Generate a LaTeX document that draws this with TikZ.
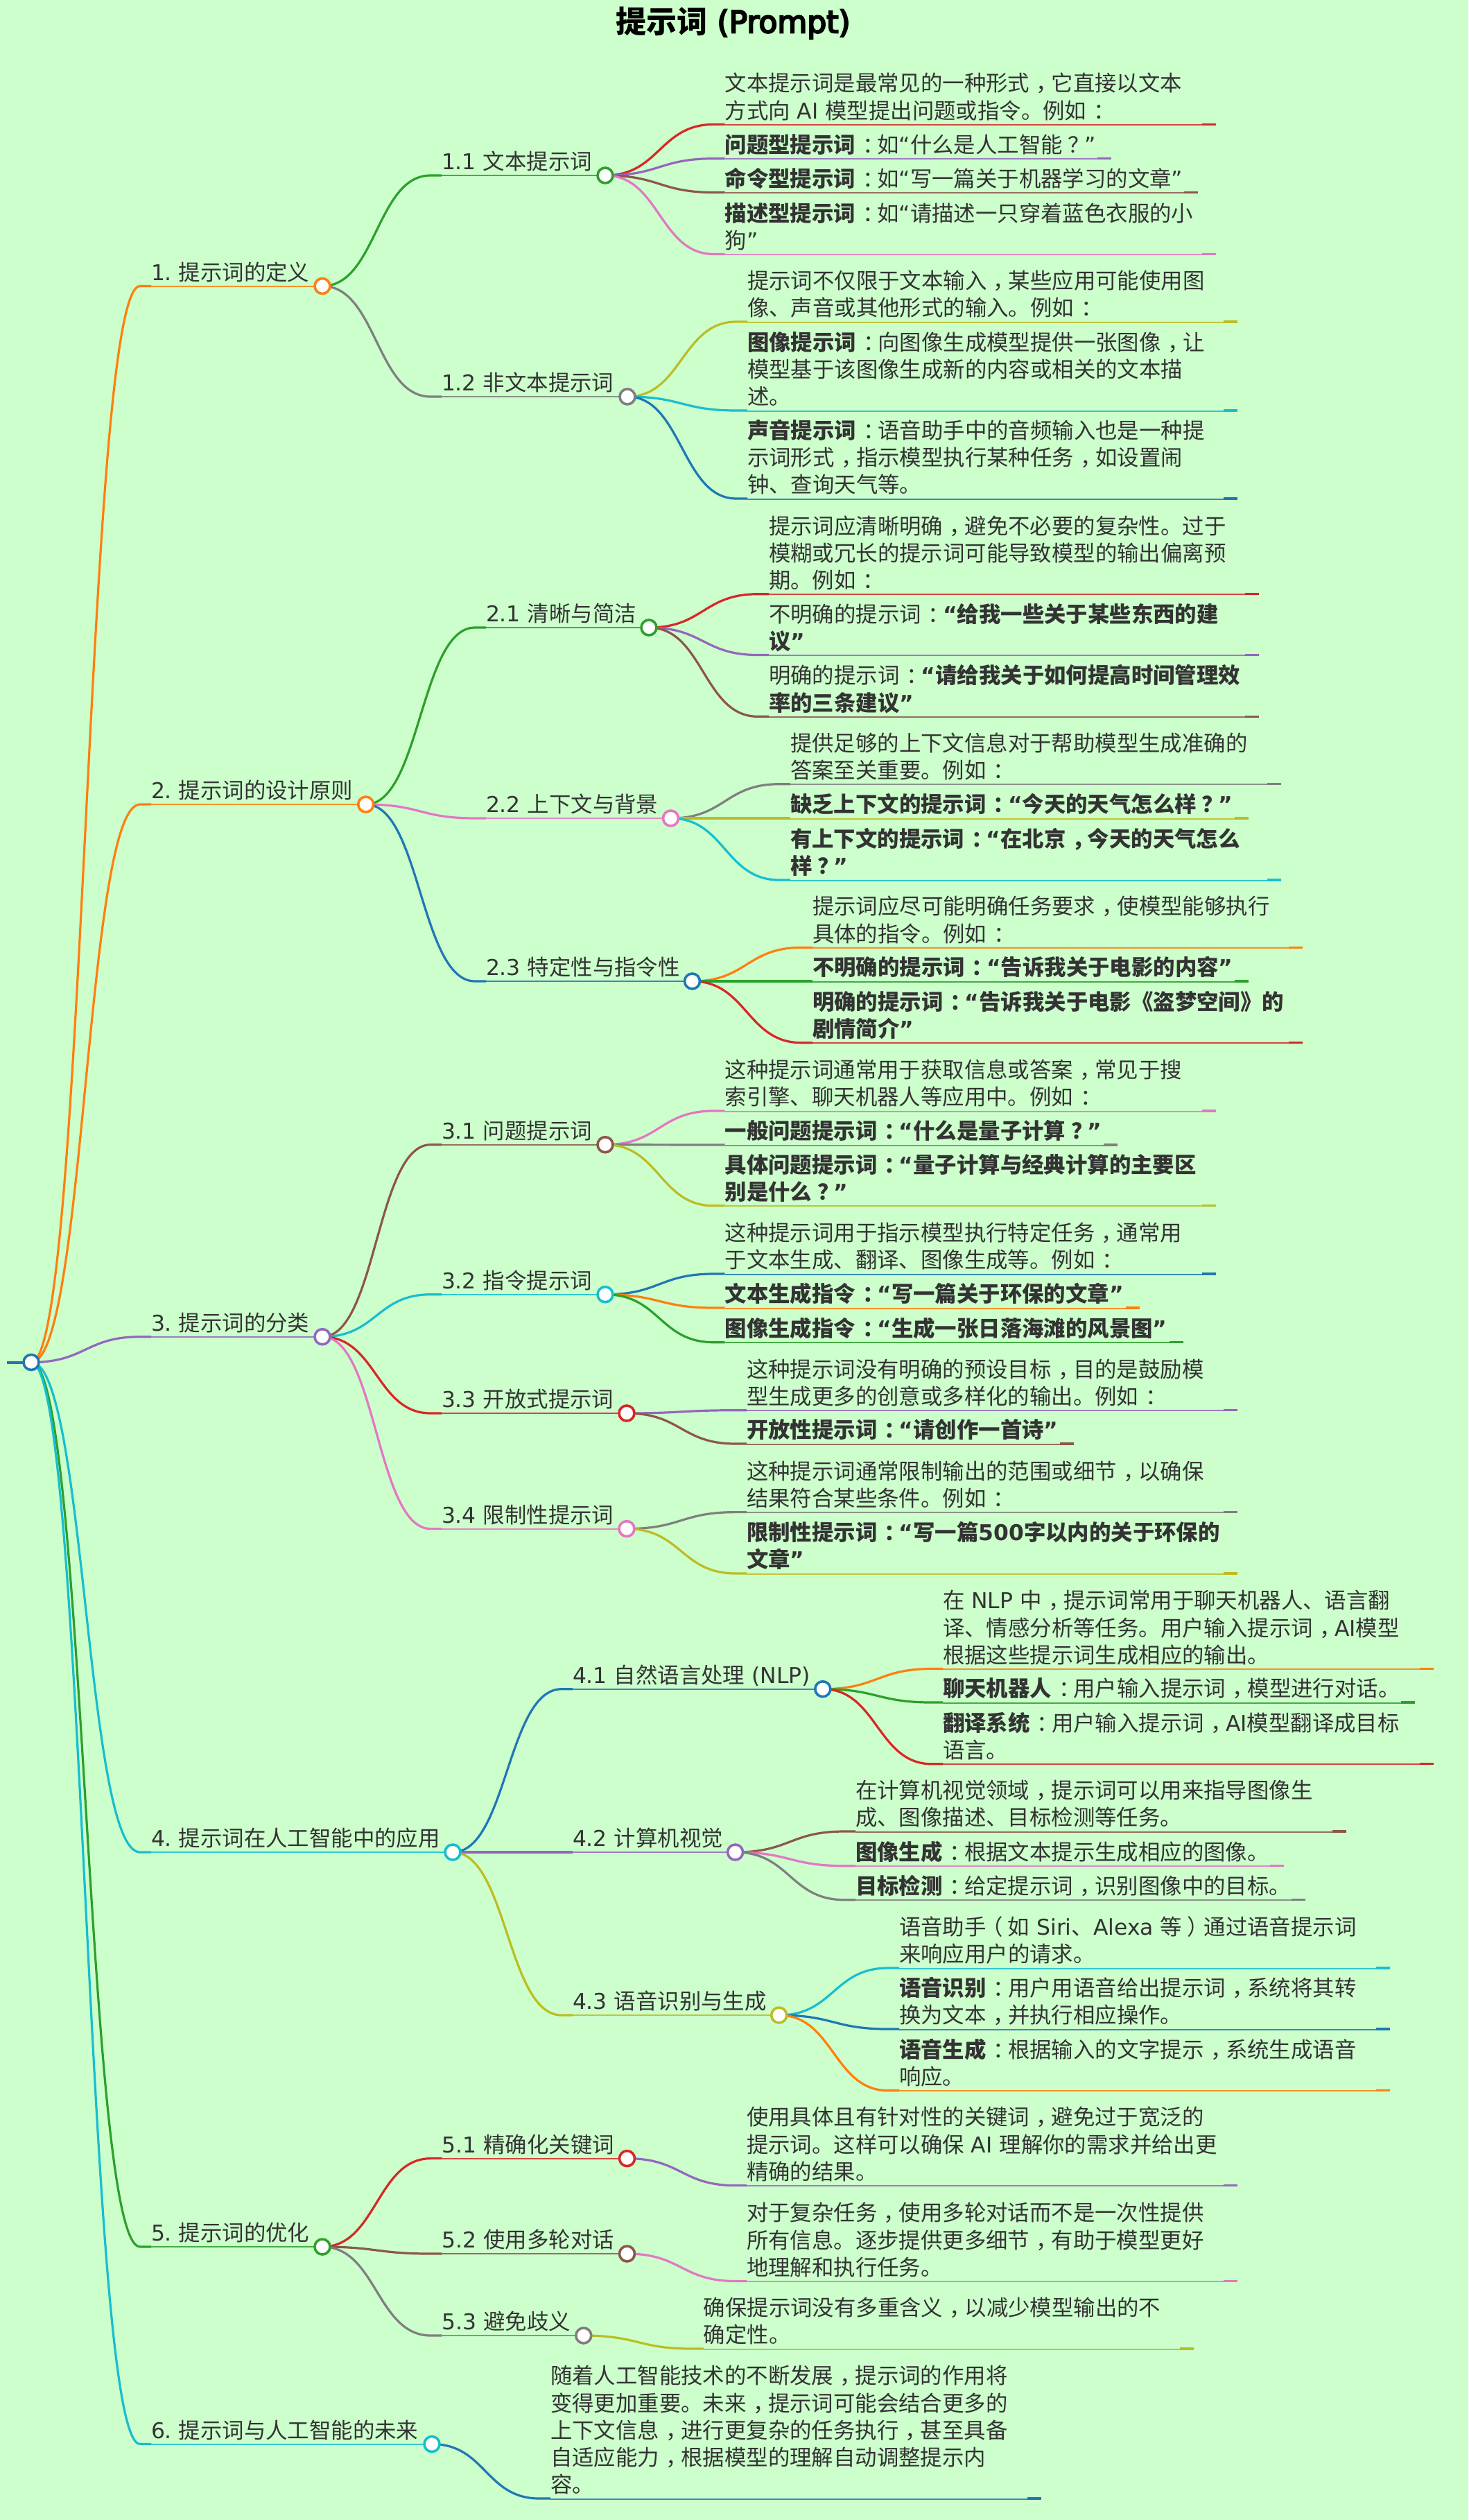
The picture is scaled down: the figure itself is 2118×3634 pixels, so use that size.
\documentclass[tikz,border=0pt]{standalone}
\usepackage{fontspec}
\setmainfont{Noto Sans CJK SC}
\newfontfamily\djv{DejaVu Sans}
\newfontfamily\djvt{DejaVu Sans}[FakeBold=5]
\usetikzlibrary{calc}
\pgfdeclarelayer{bg}
\pgfsetlayers{bg,main}
\definecolor{cblue}{HTML}{1F77B4}
\definecolor{corange}{HTML}{FF7F0E}
\definecolor{cgreen}{HTML}{2CA02C}
\definecolor{cred}{HTML}{D62728}
\definecolor{cpurple}{HTML}{9467BD}
\definecolor{cbrown}{HTML}{8C564B}
\definecolor{cpink}{HTML}{E377C2}
\definecolor{cgray}{HTML}{7F7F7F}
\definecolor{colive}{HTML}{BCBD22}
\definecolor{ccyan}{HTML}{17BECF}
\definecolor{pagebg}{HTML}{CCFFCC}
\definecolor{ink}{HTML}{333333}
\newcommand\lat[1]{{\djv #1}}
\newcommand\qa{{\djv “}}
\newcommand\qb{{\djv ”}}
\newcommand\zc{\kern.3em，\kern-.3em}
\newcommand\zk{\kern.32em：\kern-.32em}
\newcommand\zq{\kern.25em？\kern-.25em}
\newcommand\zl{\kern-.22em（\kern.22em}
\newcommand\zr{\kern.22em）\kern-.22em}
\frenchspacing
\tikzset{
  txt/.style={anchor=south west,inner sep=0pt,outer sep=0pt,align=left,yshift=-3.5pt,text=ink,
    font=\fontsize{31.4}{39.2}\selectfont\frenchspacing},
  dot/.style={circle,draw=#1,fill=white,line width=3.6pt,minimum size=22pt,inner sep=0pt},
  lnk/.style={draw=#1,line width=3.2pt},
  bar/.style={draw=#1,line width=2pt,draw opacity=.85},
  tip/.style={draw=#1,line width=3.2pt},
}
% id parent colour startx circlex y text
\newcommand\brn[7]{%
  \coordinate (s#1) at (#4,#6);
  \node[dot=#3] (#1) at (#5,#6) {};
  \node[txt] (t#1) at (s#1) {#7\strut};
  \begin{pgfonlayer}{bg}
    \draw[lnk=#3] let \p1=(#2.center),\p2=(s#1),\n2={\x2-16pt},\n1={(\n2-\x1)/2} in
      (\p1) .. controls (\x1+\n1,\y1) and (\n2-\n1,\y2) .. (\n2,\y2) -- (\p2);
    \draw[bar=#3] (s#1) -- (#1.center);
  \end{pgfonlayer}}
% id parent colour startx endx y text
\newcommand\lef[7]{%
  \coordinate (s#1) at (#4,#6);
  \coordinate (e#1) at (#5,#6);
  \coordinate (m#1) at (#5-20,#6);
  \node[txt] (t#1) at (s#1) {#7\strut};
  \begin{pgfonlayer}{bg}
    \draw[lnk=#3] let \p1=(#2.center),\p2=(s#1),\n2={\x2-16pt},\n1={(\n2-\x1)/2} in
      (\p1) .. controls (\x1+\n1,\y1) and (\n2-\n1,\y2) .. (\n2,\y2) -- (\p2);
    \draw[bar=#3] ([yshift=-.6pt]s#1) -- ([yshift=-.6pt]e#1);
    \draw[tip=#3] (m#1) -- (e#1);
  \end{pgfonlayer}}
\begin{document}
\begin{tikzpicture}[x=1pt,y=-1pt]
\useasboundingbox (0,0) rectangle (2118,3634);
\begin{pgfonlayer}{bg}
  \fill[pagebg] (0,0) rectangle (2118,3634);
\end{pgfonlayer}
\node[font=\fontsize{44}{50}\selectfont\bfseries,text=black,inner sep=0pt] (title) at (1057.5,33) {提示词{\djvt\mdseries\ (Prompt)}};
% root
\coordinate (s0) at (10,1964.5);
\node[dot=cblue] (r0) at (45,1964.5) {};
\begin{pgfonlayer}{bg}
  \draw[cblue,line width=4pt] (s0) -- (r0.center);
\end{pgfonlayer}
% 1
\brn{a}{r0}{corange}{218}{465}{412.5}{\lat{1. }提示词的定义}
\brn{aa}{a}{cgreen}{637}{873}{253}{\lat{1.1 }文本提示词}
\lef{aa1}{aa}{cred}{1045.6}{1754}{179.4}{文本提示词是最常见的一种形式\zc 它直接以文本\\方式向\lat{ AI }模型提出问题或指令。例如\zk}
\lef{aa2}{aa}{cpurple}{1045.6}{1603}{228.7}{\textbf{问题型提示词}\zk 如\qa 什么是人工智能\zq\qb}
\lef{aa3}{aa}{cbrown}{1045.6}{1728}{277.5}{\textbf{命令型提示词}\zk 如\qa 写一篇关于机器学习的文章\qb}
\lef{aa4}{aa}{cpink}{1045.6}{1754}{366.5}{\textbf{描述型提示词}\zk 如\qa 请描述一只穿着蓝色衣服的小\\狗\qb}
\brn{ab}{a}{cgray}{637}{905}{572}{\lat{1.2 }非文本提示词}
\lef{ab1}{ab}{colive}{1078}{1785}{464}{提示词不仅限于文本输入\zc 某些应用可能使用图\\像、声音或其他形式的输入。例如\zk}
\lef{ab2}{ab}{ccyan}{1078}{1785}{592}{\textbf{图像提示词}\zk 向图像生成模型提供一张图像\zc 让\\模型基于该图像生成新的内容或相关的文本描\\述。}
\lef{ab3}{ab}{cblue}{1078}{1785}{719}{\textbf{声音提示词}\zk 语音助手中的音频输入也是一种提\\示词形式\zc 指示模型执行某种任务\zc 如设置闹\\钟、查询天气等。}
% 2
\brn{b}{r0}{corange}{218}{527.7}{1160}{\lat{2. }提示词的设计原则}
\brn{ba}{b}{cgreen}{701}{936}{905}{\lat{2.1 }清晰与简洁}
\lef{ba1}{ba}{cred}{1109}{1816}{856.7}{提示词应清晰明确\zc 避免不必要的复杂性。过于\\模糊或冗长的提示词可能导致模型的输出偏离预\\期。例如\zk}
\lef{ba2}{ba}{cpurple}{1109}{1816}{944.5}{不明确的提示词\zk\textbf{\qa 给我一些关于某些东西的建}\\\textbf{议\qb}}
\lef{ba3}{ba}{cbrown}{1109}{1816}{1033.3}{明确的提示词\zk\textbf{\qa 请给我关于如何提高时间管理效}\\\textbf{率的三条建议\qb}}
\brn{bb}{b}{cpink}{701}{967.5}{1180}{\lat{2.2 }上下文与背景}
\lef{bb1}{bb}{cgray}{1140}{1848}{1130.7}{提供足够的上下文信息对于帮助模型生成准确的\\答案至关重要。例如\zk}
\lef{bb2}{bb}{colive}{1140}{1801}{1180}{\textbf{缺乏上下文的提示词\zk\qa 今天的天气怎么样\zq\qb}}
\lef{bb3}{bb}{ccyan}{1140}{1848}{1269}{\textbf{有上下文的提示词\zk\qa 在北京\zc 今天的天气怎么}\\\textbf{样\zq\qb}}
\brn{bc}{b}{cblue}{701}{998.5}{1415}{\lat{2.3 }特定性与指令性}
\lef{bc1}{bc}{corange}{1172}{1879}{1366.4}{提示词应尽可能明确任务要求\zc 使模型能够执行\\具体的指令。例如\zk}
\lef{bc2}{bc}{cgreen}{1172}{1801}{1415}{\textbf{不明确的提示词\zk\qa 告诉我关于电影的内容\qb}}
\lef{bc3}{bc}{cred}{1172}{1879}{1503.7}{\textbf{明确的提示词\zk\qa 告诉我关于电影《盗梦空间》的}\\\textbf{剧情简介\qb}}
% 3
\brn{c}{r0}{cpurple}{218}{465}{1927.7}{\lat{3. }提示词的分类}
\brn{ca}{c}{cbrown}{637}{873}{1650.7}{\lat{3.1 }问题提示词}
\lef{ca1}{ca}{cpink}{1045.6}{1754}{1602}{这种提示词通常用于获取信息或答案\zc 常见于搜\\索引擎、聊天机器人等应用中。例如\zk}
\lef{ca2}{ca}{cgray}{1045.6}{1612}{1651}{\textbf{一般问题提示词\zk\qa 什么是量子计算\zq\qb}}
\lef{ca3}{ca}{colive}{1045.6}{1754}{1738.8}{\textbf{具体问题提示词\zk\qa 量子计算与经典计算的主要区}\\\textbf{别是什么\zq\qb}}
\brn{cb}{c}{ccyan}{637}{873}{1866.7}{\lat{3.2 }指令提示词}
\lef{cb1}{cb}{cblue}{1045.6}{1754}{1837}{这种提示词用于指示模型执行特定任务\zc 通常用\\于文本生成、翻译、图像生成等。例如\zk}
\lef{cb2}{cb}{corange}{1045.6}{1644}{1886}{\textbf{文本生成指令\zk\qa 写一篇关于环保的文章\qb}}
\lef{cb3}{cb}{cgreen}{1045.6}{1706.6}{1935.7}{\textbf{图像生成指令\zk\qa 生成一张日落海滩的风景图\qb}}
\brn{cc}{c}{cred}{637}{904}{2038}{\lat{3.3 }开放式提示词}
\lef{cc1}{cc}{cpurple}{1077}{1785}{2033.7}{这种提示词没有明确的预设目标\zc 目的是鼓励模\\型生成更多的创意或多样化的输出。例如\zk}
\lef{cc2}{cc}{cbrown}{1077}{1549}{2082}{\textbf{开放性提示词\zk\qa 请创作一首诗\qb}}
\brn{cd}{c}{cpink}{637}{904}{2204.6}{\lat{3.4 }限制性提示词}
\lef{cd1}{cd}{cgray}{1077}{1785}{2180.6}{这种提示词通常限制输出的范围或细节\zc 以确保\\结果符合某些条件。例如\zk}
\lef{cd2}{cd}{colive}{1077}{1785}{2269}{\textbf{限制性提示词\zk\qa 写一篇\lat{500}字以内的关于环保的}\\\textbf{文章\qb}}
% 4
\brn{d}{r0}{ccyan}{218}{653}{2671}{\lat{4. }提示词在人工智能中的应用}
\brn{da}{d}{cblue}{826}{1186.8}{2435.7}{\lat{4.1 }自然语言处理\lat{ (NLP)}}
\lef{da1}{da}{corange}{1360}{2068}{2406.5}{在\lat{ NLP }中\zc 提示词常用于聊天机器人、语言翻\\译、情感分析等任务。用户输入提示词\zc\lat{AI}模型\\根据这些提示词生成相应的输出。}
\lef{da2}{da}{cgreen}{1360}{2041}{2455}{\textbf{聊天机器人}\zk 用户输入提示词\zc 模型进行对话。}
\lef{da3}{da}{cred}{1360}{2068}{2543.8}{\textbf{翻译系统}\zk 用户输入提示词\zc\lat{AI}模型翻译成目标\\语言。}
\brn{db}{d}{cpurple}{826}{1060.6}{2671}{\lat{4.2 }计算机视觉}
\lef{db1}{db}{cbrown}{1234}{1942}{2641}{在计算机视觉领域\zc 提示词可以用来指导图像生\\成、图像描述、目标检测等任务。}
\lef{db2}{db}{cpink}{1234}{1852}{2690.7}{\textbf{图像生成}\zk 根据文本提示生成相应的图像。}
\lef{db3}{db}{cgray}{1234}{1883}{2739.7}{\textbf{目标检测}\zk 给定提示词\zc 识别图像中的目标。}
\brn{dc}{d}{colive}{826}{1123.7}{2906}{\lat{4.3 }语音识别与生成}
\lef{dc1}{dc}{ccyan}{1297}{2005}{2838}{语音助手\zl 如\lat{ Siri}、\lat{Alexa }等\zr 通过语音提示词\\来响应用户的请求。}
\lef{dc2}{dc}{cblue}{1297}{2005}{2926}{\textbf{语音识别}\zk 用户用语音给出提示词\zc 系统将其转\\换为文本\zc 并执行相应操作。}
\lef{dc3}{dc}{corange}{1297}{2005}{3014.7}{\textbf{语音生成}\zk 根据输入的文字提示\zc 系统生成语音\\响应。}
% 5
\brn{e}{r0}{cgreen}{218}{465}{3240}{\lat{5. }提示词的优化}
\brn{ea}{e}{cred}{637.5}{904.5}{3112.6}{\lat{5.1 }精确化关键词}
\lef{ea1}{ea}{cpurple}{1077}{1785}{3151.6}{使用具体且有针对性的关键词\zc 避免过于宽泛的\\提示词。这样可以确保\lat{ AI }理解你的需求并给出更\\精确的结果。}
\brn{eb}{e}{cbrown}{637.5}{904.5}{3250}{\lat{5.2 }使用多轮对话}
\lef{eb1}{eb}{cpink}{1077}{1785}{3289.5}{对于复杂任务\zc 使用多轮对话而不是一次性提供\\所有信息。逐步提供更多细节\zc 有助于模型更好\\地理解和执行任务。}
\brn{ec}{e}{cgray}{637.5}{841.8}{3368}{\lat{5.3 }避免歧义}
\lef{ec1}{ec}{colive}{1014.8}{1722}{3387}{确保提示词没有多重含义\zc 以减少模型输出的不\\确定性。}
% 6
\brn{f}{r0}{ccyan}{218}{623}{3524.5}{\lat{6. }提示词与人工智能的未来}
\lef{f1}{f}{cblue}{794}{1502}{3603}{随着人工智能技术的不断发展\zc 提示词的作用将\\变得更加重要。未来\zc 提示词可能会结合更多的\\上下文信息\zc 进行更复杂的任务执行\zc 甚至具备\\自适应能力\zc 根据模型的理解自动调整提示内\\容。}
\end{tikzpicture}
\end{document}
